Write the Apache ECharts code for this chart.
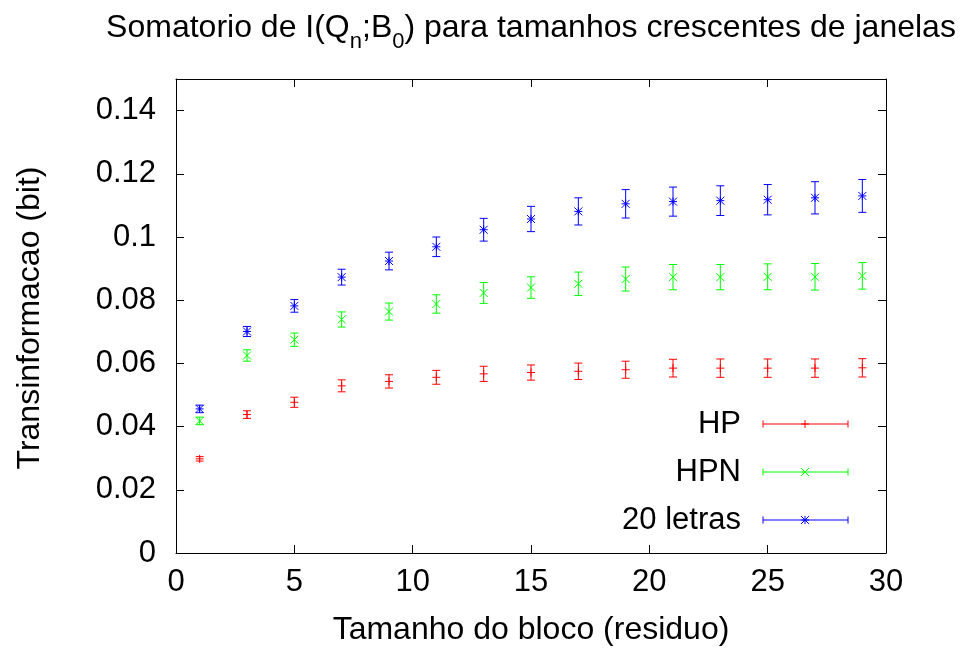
<!DOCTYPE html>
<html>
<head>
<meta charset="utf-8">
<script src="https://cdn.jsdelivr.net/npm/echarts@6/dist/echarts.min.js"></script>
<style>
  html, body { margin: 0; padding: 0; background: #fff; }
  #chart { width: 960px; height: 648px; }
</style>
</head>
<body>
<div id="chart"></div>
<script>
// Block sizes (residues)
const blockSizes = [1, 3, 5, 7, 9, 11, 13, 15, 17, 19, 21, 23, 25, 27, 29];

// Summed transinformation (bit) and its error, per alphabet
const hpValues = [0.0298, 0.0438, 0.0477, 0.0529, 0.0543, 0.0556, 0.0567, 0.0571, 0.0575, 0.0580, 0.0585, 0.0585, 0.0585, 0.0585, 0.0586];
const hpErrors = [0.0007, 0.0012, 0.0016, 0.0019, 0.0021, 0.0022, 0.0024, 0.0024, 0.0026, 0.0027, 0.0028, 0.0029, 0.0029, 0.0029, 0.0029];

const hpnValues = [0.0418, 0.0625, 0.0675, 0.0739, 0.0764, 0.0788, 0.0823, 0.0840, 0.0852, 0.0867, 0.0873, 0.0873, 0.0874, 0.0874, 0.0877];
const hpnErrors = [0.0012, 0.0018, 0.0021, 0.0024, 0.0027, 0.0029, 0.0033, 0.0034, 0.0037, 0.0038, 0.0040, 0.0040, 0.0041, 0.0042, 0.0042];

const letrasValues = [0.0456, 0.0701, 0.0782, 0.0873, 0.0924, 0.0969, 0.1023, 0.1057, 0.1081, 0.1105, 0.1112, 0.1115, 0.1118, 0.1124, 0.1130];
const letrasErrors = [0.0012, 0.0016, 0.0020, 0.0025, 0.0028, 0.0031, 0.0036, 0.0040, 0.0043, 0.0045, 0.0046, 0.0047, 0.0048, 0.0051, 0.0052];

const seriesNames = ['HP', 'HPN', '20 letras'];
const xTicks = [0, 5, 10, 15, 20, 25, 30];

const FONT = '"Liberation Sans", Arial, sans-serif';
const FS = 31;       // tick labels and key
const FS_TITLE = 32; // chart and axis titles
const CAP = 4;   // half width of error bar caps
const MK = 4;    // half size of point markers

// Point marker segments: '+', 'x' and '*' like gnuplot point types 1, 2, 3
function markerSegments(kind, cx, cy, s) {
  const plus = [[cx - s, cy, cx + s, cy], [cx, cy - s, cx, cy + s]];
  const cross = [[cx - s, cy - s, cx + s, cy + s], [cx - s, cy + s, cx + s, cy - s]];
  if (kind === 'plus') return plus;
  if (kind === 'cross') return cross;
  return plus.concat(cross);
}

function seg(a, color) {
  return {
    type: 'line',
    shape: { x1: a[0], y1: a[1], x2: a[2], y2: a[3] },
    style: { stroke: color, lineWidth: 1 }
  };
}

function errorSeries(name, values, errors, color, kind) {
  return {
    name: name,
    type: 'custom',
    coordinateSystem: 'cartesian2d',
    xAxisIndex: 0,
    yAxisIndex: 0,
    encode: { x: 0, y: 1 },
    data: blockSizes.map((x, i) => [x, values[i], errors[i]]),
    renderItem: function (params, api) {
      const x = api.value(0), y = api.value(1), e = api.value(2);
      const p = api.coord([x, y]);
      const hi = api.coord([x, y + e]);
      const lo = api.coord([x, y - e]);
      const segs = [
        [p[0], hi[1], p[0], lo[1]],
        [p[0] - CAP, hi[1], p[0] + CAP, hi[1]],
        [p[0] - CAP, lo[1], p[0] + CAP, lo[1]]
      ].concat(markerSegments(kind, p[0], p[1], MK));
      return { type: 'group', children: segs.map(s => seg(s, color)) };
    }
  };
}

// Key entries drawn in gnuplot style: label, error-bar sample, marker
function keyEntry(label, y, color, kind) {
  const x1 = 763, x2 = 848, xm = 805, h = 3.5;
  const segs = [
    [x1, y, x2, y],
    [x1, y - h, x1, y + h],
    [x2, y - h, x2, y + h]
  ].concat(markerSegments(kind, xm, y, MK));
  return [
    {
      type: 'text', x: 741, y: y,
      style: { text: label, align: 'right', verticalAlign: 'middle', fill: '#000', font: FS + 'px ' + FONT }
    }
  ].concat(segs.map(s => seg(s, color)));
}

const axisCommon = {
  type: 'value',
  axisLine: { show: true, onZero: false, lineStyle: { color: '#000', width: 1 } },
  axisTick: { show: true, inside: true, length: 8, lineStyle: { color: '#000', width: 1 } },
  splitLine: { show: false }
};

const chart = echarts.init(document.getElementById('chart'), null, { renderer: 'canvas' });

chart.setOption({
  backgroundColor: '#fff',
  animation: false,
  grid: { left: 176, right: 74, top: 79, bottom: 95, containLabel: false, outerBoundsMode: 'none' },
  xAxis: [
    Object.assign({}, axisCommon, {
      position: 'bottom', min: xTicks[0], max: xTicks[xTicks.length - 1], interval: 5,
      axisLabel: { show: true, margin: 14, color: '#000', fontSize: FS, fontFamily: FONT }
    }),
    Object.assign({}, axisCommon, {
      position: 'top', min: xTicks[0], max: xTicks[xTicks.length - 1], interval: 5,
      axisLabel: { show: false }
    })
  ],
  yAxis: [
    Object.assign({}, axisCommon, {
      position: 'left', min: 0, max: 0.15, interval: 0.02,
      axisLabel: {
        show: true, margin: 20, color: '#000', fontSize: FS, fontFamily: FONT,
        showMaxLabel: false,
        formatter: v => String(+v.toFixed(2))
      }
    }),
    Object.assign({}, axisCommon, {
      position: 'right', min: 0, max: 0.15, interval: 0.02,
      axisLabel: { show: false }
    })
  ],
  series: [
    errorSeries(seriesNames[0], hpValues, hpErrors, '#ff0000', 'plus'),
    errorSeries(seriesNames[1], hpnValues, hpnErrors, '#00ff00', 'cross'),
    errorSeries(seriesNames[2], letrasValues, letrasErrors, '#0000ff', 'star')
  ],
  graphic: [
    {
      type: 'text', x: 531, y: 28,
      style: {
        text: '{a|Somatorio de I(Q}{s|n}{a|;B}{s|0}{a|) para tamanhos crescentes de janelas}',
        align: 'center', verticalAlign: 'middle',
        rich: {
          a: { fontSize: FS_TITLE, fontFamily: FONT, fill: '#000', lineHeight: 32, verticalAlign: 'top' },
          s: { fontSize: 22, fontFamily: FONT, fill: '#000', lineHeight: 20, padding: [19, 0, 0, 0], verticalAlign: 'top' }
        }
      }
    },
    {
      type: 'text', x: 531, y: 630,
      style: { text: 'Tamanho do bloco (residuo)', align: 'center', verticalAlign: 'middle', fill: '#000', font: FS_TITLE + 'px ' + FONT }
    },
    {
      type: 'text', x: 30, y: 318, rotation: Math.PI / 2,
      style: { text: 'Transinformacao (bit)', align: 'center', verticalAlign: 'middle', fill: '#000', font: FS_TITLE + 'px ' + FONT }
    }
  ]
    .concat(keyEntry(seriesNames[0], 424, '#ff0000', 'plus'))
    .concat(keyEntry(seriesNames[1], 472, '#00ff00', 'cross'))
    .concat(keyEntry(seriesNames[2], 520, '#0000ff', 'star'))
});
</script>
</body>
</html>
